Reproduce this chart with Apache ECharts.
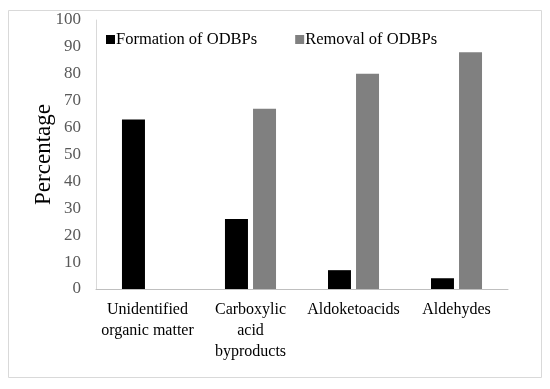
<!DOCTYPE html>
<html><head><meta charset="utf-8">
<script src="https://cdn.jsdelivr.net/npm/echarts@6/dist/echarts.min.js"></script>
<style>html,body{margin:0;padding:0;background:#fff}#c{width:550px;height:389px}</style>
</head><body><div id="c"></div>
<script>
const categories = ['Unidentified\norganic matter', 'Carboxylic\nacid\nbyproducts', 'Aldoketoacids', 'Aldehydes'];
const formation = [63, 26, 7, 4];
const removal = [null, 67, 80, 88];
const yTicks = [0, 10, 20, 30, 40, 50, 60, 70, 80, 90, 100];

const font = '"Liberation Serif", "Times New Roman", serif';
const chart = echarts.init(document.getElementById('c'));
chart.setOption({
  animation: false,
  backgroundColor: '#fff',
  graphic: [{
    type: 'rect', shape: { x: 8.5, y: 10.5, width: 533, height: 367 },
    style: { fill: 'none', stroke: '#d9d9d9', lineWidth: 1 }, z: -1
  }],
  legend: {
    left: 101, top: 26, itemWidth: 9, itemHeight: 9, itemGap: 38,
    icon: 'rect',
    textStyle: { fontFamily: font, fontSize: 16.5, color: '#000', padding: [0, 0, 0, -4] },
    data: ['Formation of ODBPs', 'Removal of ODBPs']
  },
  grid: { left: 96, right: 42, top: 20, bottom: 100 },
  xAxis: {
    type: 'category', data: categories,
    axisLine: { lineStyle: { color: '#bfbfbf', width: 1 } },
    axisTick: { show: false },
    axisLabel: { fontFamily: font, fontSize: 16, color: '#000', lineHeight: 21, margin: 10, interval: 0 }
  },
  yAxis: {
    type: 'value', min: 0, max: 100, interval: 10,
    name: 'Percentage', nameLocation: 'middle', nameGap: 41, nameMoveOverlap: false,
    nameTextStyle: { fontFamily: font, fontSize: 23, color: '#000' },
    axisLine: { show: true, lineStyle: { color: '#d9d9d9' } },
    axisTick: { show: false },
    splitLine: { show: false },
    axisLabel: { fontFamily: font, fontSize: 17, color: '#595959', margin: 15,
      formatter: v => yTicks.includes(v) ? String(v) : '' }
  },
  series: [
    { name: 'Formation of ODBPs', type: 'bar', data: formation, barWidth: 23, barGap: '22%',
      itemStyle: { color: '#000' } },
    { name: 'Removal of ODBPs', type: 'bar', data: removal, barWidth: 23,
      itemStyle: { color: '#808080' } }
  ]
});
</script></body></html>
